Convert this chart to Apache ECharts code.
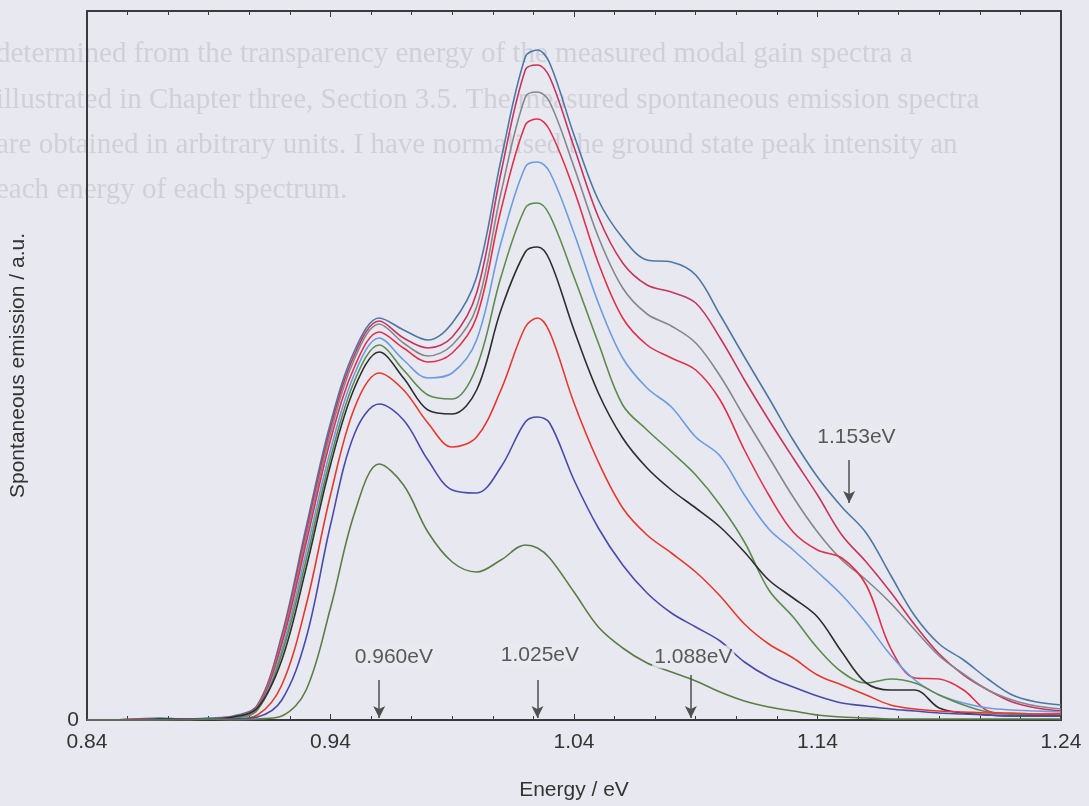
<!DOCTYPE html>
<html>
<head>
<meta charset="utf-8">
<script src="https://cdn.jsdelivr.net/npm/echarts@6/dist/echarts.min.js"></script>
<style>
html,body{margin:0;padding:0;background:#e8e8f0;}
#c{width:1089px;height:806px;}
</style>
</head>
<body>
<div id="c"></div>
<script>
// Energy (eV) sample points
const energy = [0.84,0.85,0.86,0.87,0.88,0.89,0.90,0.91,0.92,0.93,0.94,0.95,0.96,0.97,0.98,0.99,1.00,1.01,1.02,1.025,1.03,1.04,1.05,1.06,1.07,1.08,1.09,1.10,1.11,1.12,1.13,1.14,1.15,1.16,1.17,1.18,1.19,1.20,1.21,1.22,1.23,1.24];
// Spontaneous emission (a.u.) for each spectrum, top to bottom
const s1 = [0,0,1,2,1,2,4,15,85,193,297,370,402,390,380,397,443,560,663,670,657,585,520,482,460,458,445,405,363,322,280,243,213,187,145,104,76,60,41,25,18,15];
const s2 = [0,0,1,1,1,1,3,14,83,188,292,366,399,382,372,383,427,547,650,655,643,573,503,457,435,428,417,382,340,300,262,225,185,158,128,95,66,45,30,18,12,9];
const s3 = [0,0,0,1,1,1,3,13,80,183,287,362,396,377,364,375,413,527,623,628,618,553,483,432,406,394,377,344,303,263,223,188,160,140,117,90,64,46,30,20,14,11];
const s4 = [0,0,0,1,1,1,3,12,76,177,280,354,388,372,358,367,403,510,595,601,590,530,457,402,375,362,350,320,270,225,188,170,162,135,72,42,41,30,9,6,6,6];
const s5 = [0,0,0,1,1,1,2,11,70,168,270,347,382,360,342,347,380,477,553,558,548,487,417,362,332,313,283,264,225,191,170,148,125,97,65,40,25,17,12,10,9,8];
const s6 = [0,0,0,1,1,1,2,10,66,160,262,340,375,350,325,321,353,443,512,517,505,443,377,315,290,268,245,215,178,130,103,72,48,37,41,37,25,15,8,6,5,5];
const s7 = [0,0,0,1,1,1,3,12,60,152,255,333,368,342,310,306,330,410,468,473,460,390,327,282,252,230,212,193,168,140,122,103,68,37,30,30,12,7,5,4,4,4];
const s8 = [0,0,0,0,1,1,1,5,35,115,225,313,347,330,297,273,283,330,393,402,388,317,258,212,185,167,148,124,96,76,62,45,35,25,15,11,9,8,7,7,6,6];
const s9 = [0,0,0,0,1,1,1,3,20,82,195,287,316,300,260,230,227,253,298,303,297,240,192,155,127,107,93,79,58,43,33,24,17,14,11,9,7,6,5,4,4,4];
const s10 = [0,0,0,0,0,1,0,1,4,30,112,208,256,235,188,158,148,160,175,172,162,128,93,72,57,48,39,28,19,13,9,5,3,2,1,1,1,1,1,1,1,1];
const spectra = [s1,s2,s3,s4,s5,s6,s7,s8,s9,s10];
const colors = ['#4d78a6','#c8345e','#86868c','#e2304c','#6c9ce0','#5b8c4e','#2e2e2e','#e8382e','#4a4aae','#5c7c46'];

// Annotations
const annotLabels = ['0.960eV','1.025eV','1.088eV','1.153eV'];
const annotEnergy = [0.960,1.025,1.088,1.153];
const annotLabelEnergy = [0.966,1.026,1.089,1.156];
const annotLabelY = [63,65,63,283];
const annotArrowTop = [40,40,45,260];
const annotArrowBottom = [2,2,2,217];

// Faint page text behind the figure (scan)
const pageText = [
  'determined from the transparency energy of the measured modal gain spectra a',
  'illustrated in Chapter three, Section 3.5. The measured spontaneous emission spectra',
  'are obtained in arbitrary units. I have normalised the ground state peak intensity an',
  'each energy of each spectrum.'
];
const pageTextY = [57,103,148,193];

const font = '"Liberation Sans", Arial, sans-serif';
const axisCol = '#3a3a3a';

const series = spectra.map((s,i)=>({
  type:'line',
  data: energy.map((e,k)=>[e,s[k]]),
  smooth:0.35,
  symbol:'none',
  lineStyle:{color:colors[i],width:1.6},
  z: 3
}));

series.push({
  type:'line',
  data:[],
  symbol:'none',
  markLine:{
    silent:true,
    symbol:['none','arrow'],
    symbolSize:[9,12],
    label:{show:false},
    lineStyle:{color:'#505050',width:1.5,type:'solid'},
    data: annotEnergy.map((e,i)=>[{coord:[e,annotArrowTop[i]]},{coord:[e,annotArrowBottom[i]]}])
  }
});
series.push({
  type:'scatter',
  symbolSize:0,
  z:10,
  data: annotLabelEnergy.map((e,i)=>({value:[e,annotLabelY[i]],name:annotLabels[i]})),
  label:{
    show:true,
    position:'inside',
    formatter:p=>p.name,
    fontFamily:font,
    fontSize:21,
    color:'#333',
    backgroundColor:'#e8e8f0',
    padding:[1,2]
  }
});

const chart = echarts.init(document.getElementById('c'));
chart.setOption({
  backgroundColor:'#e8e8f0',
  animation:false,
  graphic: pageText.map((t,i)=>({
    type:'text',
    left:-4,
    top:pageTextY[i]-17,
    z:-10,
    silent:true,
    style:{text:t,fill:'#d0d0da',font:'29px "Liberation Serif", serif'}
  })),
  grid:{left:84,right:28,top:11,bottom:86},
  xAxis:[{
    type:'value',min:0.84,max:1.24,interval:0.1,
    name:'Energy / eV',nameLocation:'middle',nameGap:60,
    nameTextStyle:{fontFamily:font,fontSize:21,color:'#333'},
    axisLine:{show:true,onZero:false,lineStyle:{color:axisCol,width:2}},
    axisTick:{show:true,inside:true,length:6,lineStyle:{color:axisCol}},
    minorTick:{show:true,splitNumber:6,length:4,lineStyle:{color:axisCol}},
    axisLabel:{fontFamily:font,fontSize:21,color:'#333',margin:12,formatter:v=>v.toFixed(2)},
    splitLine:{show:false}
  },{
    type:'value',min:0.84,max:1.24,interval:0.1,position:'top',
    axisLine:{show:true,onZero:false,lineStyle:{color:axisCol,width:2}},
    axisTick:{show:true,inside:true,length:6,lineStyle:{color:axisCol}},
    minorTick:{show:true,splitNumber:6,length:4,lineStyle:{color:axisCol}},
    axisLabel:{show:false},splitLine:{show:false}
  }],
  yAxis:[{
    type:'value',min:0,max:709,interval:709,
    name:'Spontaneous emission / a.u.',nameLocation:'middle',nameGap:58,
    nameTextStyle:{fontFamily:font,fontSize:21,color:'#333'},
    axisLine:{show:true,onZero:false,lineStyle:{color:axisCol,width:2}},
    axisTick:{show:false},
    axisLabel:{fontFamily:font,fontSize:21,color:'#333',margin:8,formatter:v=>v===0?'0':''},
    splitLine:{show:false}
  },{
    type:'value',min:0,max:709,position:'right',
    axisLine:{show:true,onZero:false,lineStyle:{color:axisCol,width:2}},
    axisTick:{show:false},axisLabel:{show:false},splitLine:{show:false}
  }],
  series:series
});
</script>
</body>
</html>
